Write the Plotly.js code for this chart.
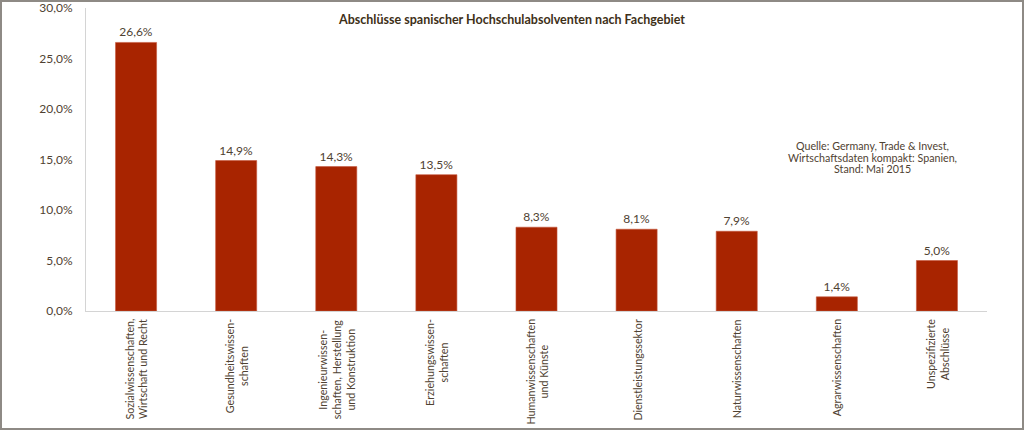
<!DOCTYPE html>
<html>
<head>
<meta charset="utf-8">
<script src="https://cdn.plot.ly/plotly-3.0.1.min.js"></script>
<style>
  html, body { margin: 0; padding: 0; background: #fff; }
  #chart { width: 1020px; height: 426px; border: 2px solid #8e8a85; }
</style>
</head>
<body>
<div id="chart"></div>
<script>
// Fachgebiete (x-axis) and share of graduates in percent
const categories = [
    'Sozialwissenschaften,<br>Wirtschaft und Recht',
    'Gesundheitswissen-<br>schaften',
    'Ingenieurwissen-<br>schaften, Herstellung<br>und Konstruktion',
    'Erziehungswissen-<br>schaften',
    'Humanwissenschaften<br>und Künste',
    'Dienstleistungssektor',
    'Naturwissenschaften',
    'Agrarwissenschaften',
    'Unspezifizierte<br>Abschlüsse'
];
const shares = [26.6, 14.9, 14.3, 13.5, 8.3, 8.1, 7.9, 1.4, 5.0];
const tickValues = [0, 5, 10, 15, 20, 25, 30];
const tickLabels = tickValues.map(v => v.toFixed(1).replace('.', ',') + '%');

const chartTitle = 'Abschlüsse spanischer Hochschulabsolventen nach Fachgebiet';
const sourceLines = [
    'Quelle: Germany, Trade &amp; Invest,',
    'Wirtschaftsdaten kompakt: Spanien,',
    'Stand: Mai 2015'
];

const textColor = '#4f4232';
const fontFamily = 'Lato, "Open Sans", sans-serif';

const data = [{
    x: categories,
    y: shares,
    type: 'bar',
    marker: { color: '#a82400', line: { color: '#c4553a', width: 0.6 } },
    texttemplate: '%{y:.1f}%',
    textposition: 'outside',
    textfont: { color: textColor, size: 12, family: fontFamily },
    cliponaxis: false,
    hoverinfo: 'x+y'
}];

// rotated category labels, lines centered, hanging below the axis
const labelNotes = categories.map(c => ({
    x: c,
    y: 0,
    xref: 'x',
    yref: 'paper',
    text: c,
    textangle: -90,
    showarrow: false,
    xanchor: 'center',
    yanchor: 'top',
    yshift: -6,
    align: 'center',
    font: { color: textColor, size: 10.7, family: fontFamily }
}));

// source note, one annotation per line to keep the tight line spacing
const sourceNotes = sourceLines.map((line, i) => ({
    x: 0.873,
    y: 0.545,
    xref: 'paper',
    yref: 'paper',
    yshift: -i * 11.5,
    text: line,
    showarrow: false,
    xanchor: 'center',
    yanchor: 'middle',
    font: { color: textColor, size: 10.7, family: fontFamily }
}));

const layout = {
    title: {
        text: '<b>' + chartTitle + '</b>',
        x: 0.5,
        xref: 'container',
        y: 0.958,
        yref: 'container',
        yanchor: 'middle',
        font: { color: '#3e3018', size: 12.5, family: fontFamily }
    },
    xaxis: {
        showticklabels: false,
        showline: true,
        linecolor: '#d4d4d4',
        linewidth: 1,
        ticks: '',
        showgrid: false,
        zeroline: false
    },
    yaxis: {
        range: [0, 30.01],
        tickmode: 'array',
        tickvals: tickValues,
        ticktext: tickLabels,
        ticklabeloverflow: 'allow',
        showline: true,
        linecolor: '#d4d4d4',
        linewidth: 1,
        showgrid: false,
        zeroline: false,
        ticks: '',
        ticklabelstandoff: 10,
        tickfont: { color: textColor, size: 12, family: fontFamily }
    },
    annotations: labelNotes.concat(sourceNotes),
    separators: ',.',
    bargap: 0.59,
    showlegend: false,
    paper_bgcolor: '#ffffff',
    plot_bgcolor: '#ffffff',
    font: { family: fontFamily, color: textColor },
    margin: { t: 6, r: 35, b: 117, l: 84 }
};

Plotly.newPlot('chart', data, layout, { displayModeBar: false, responsive: false });
</script>
</body>
</html>
